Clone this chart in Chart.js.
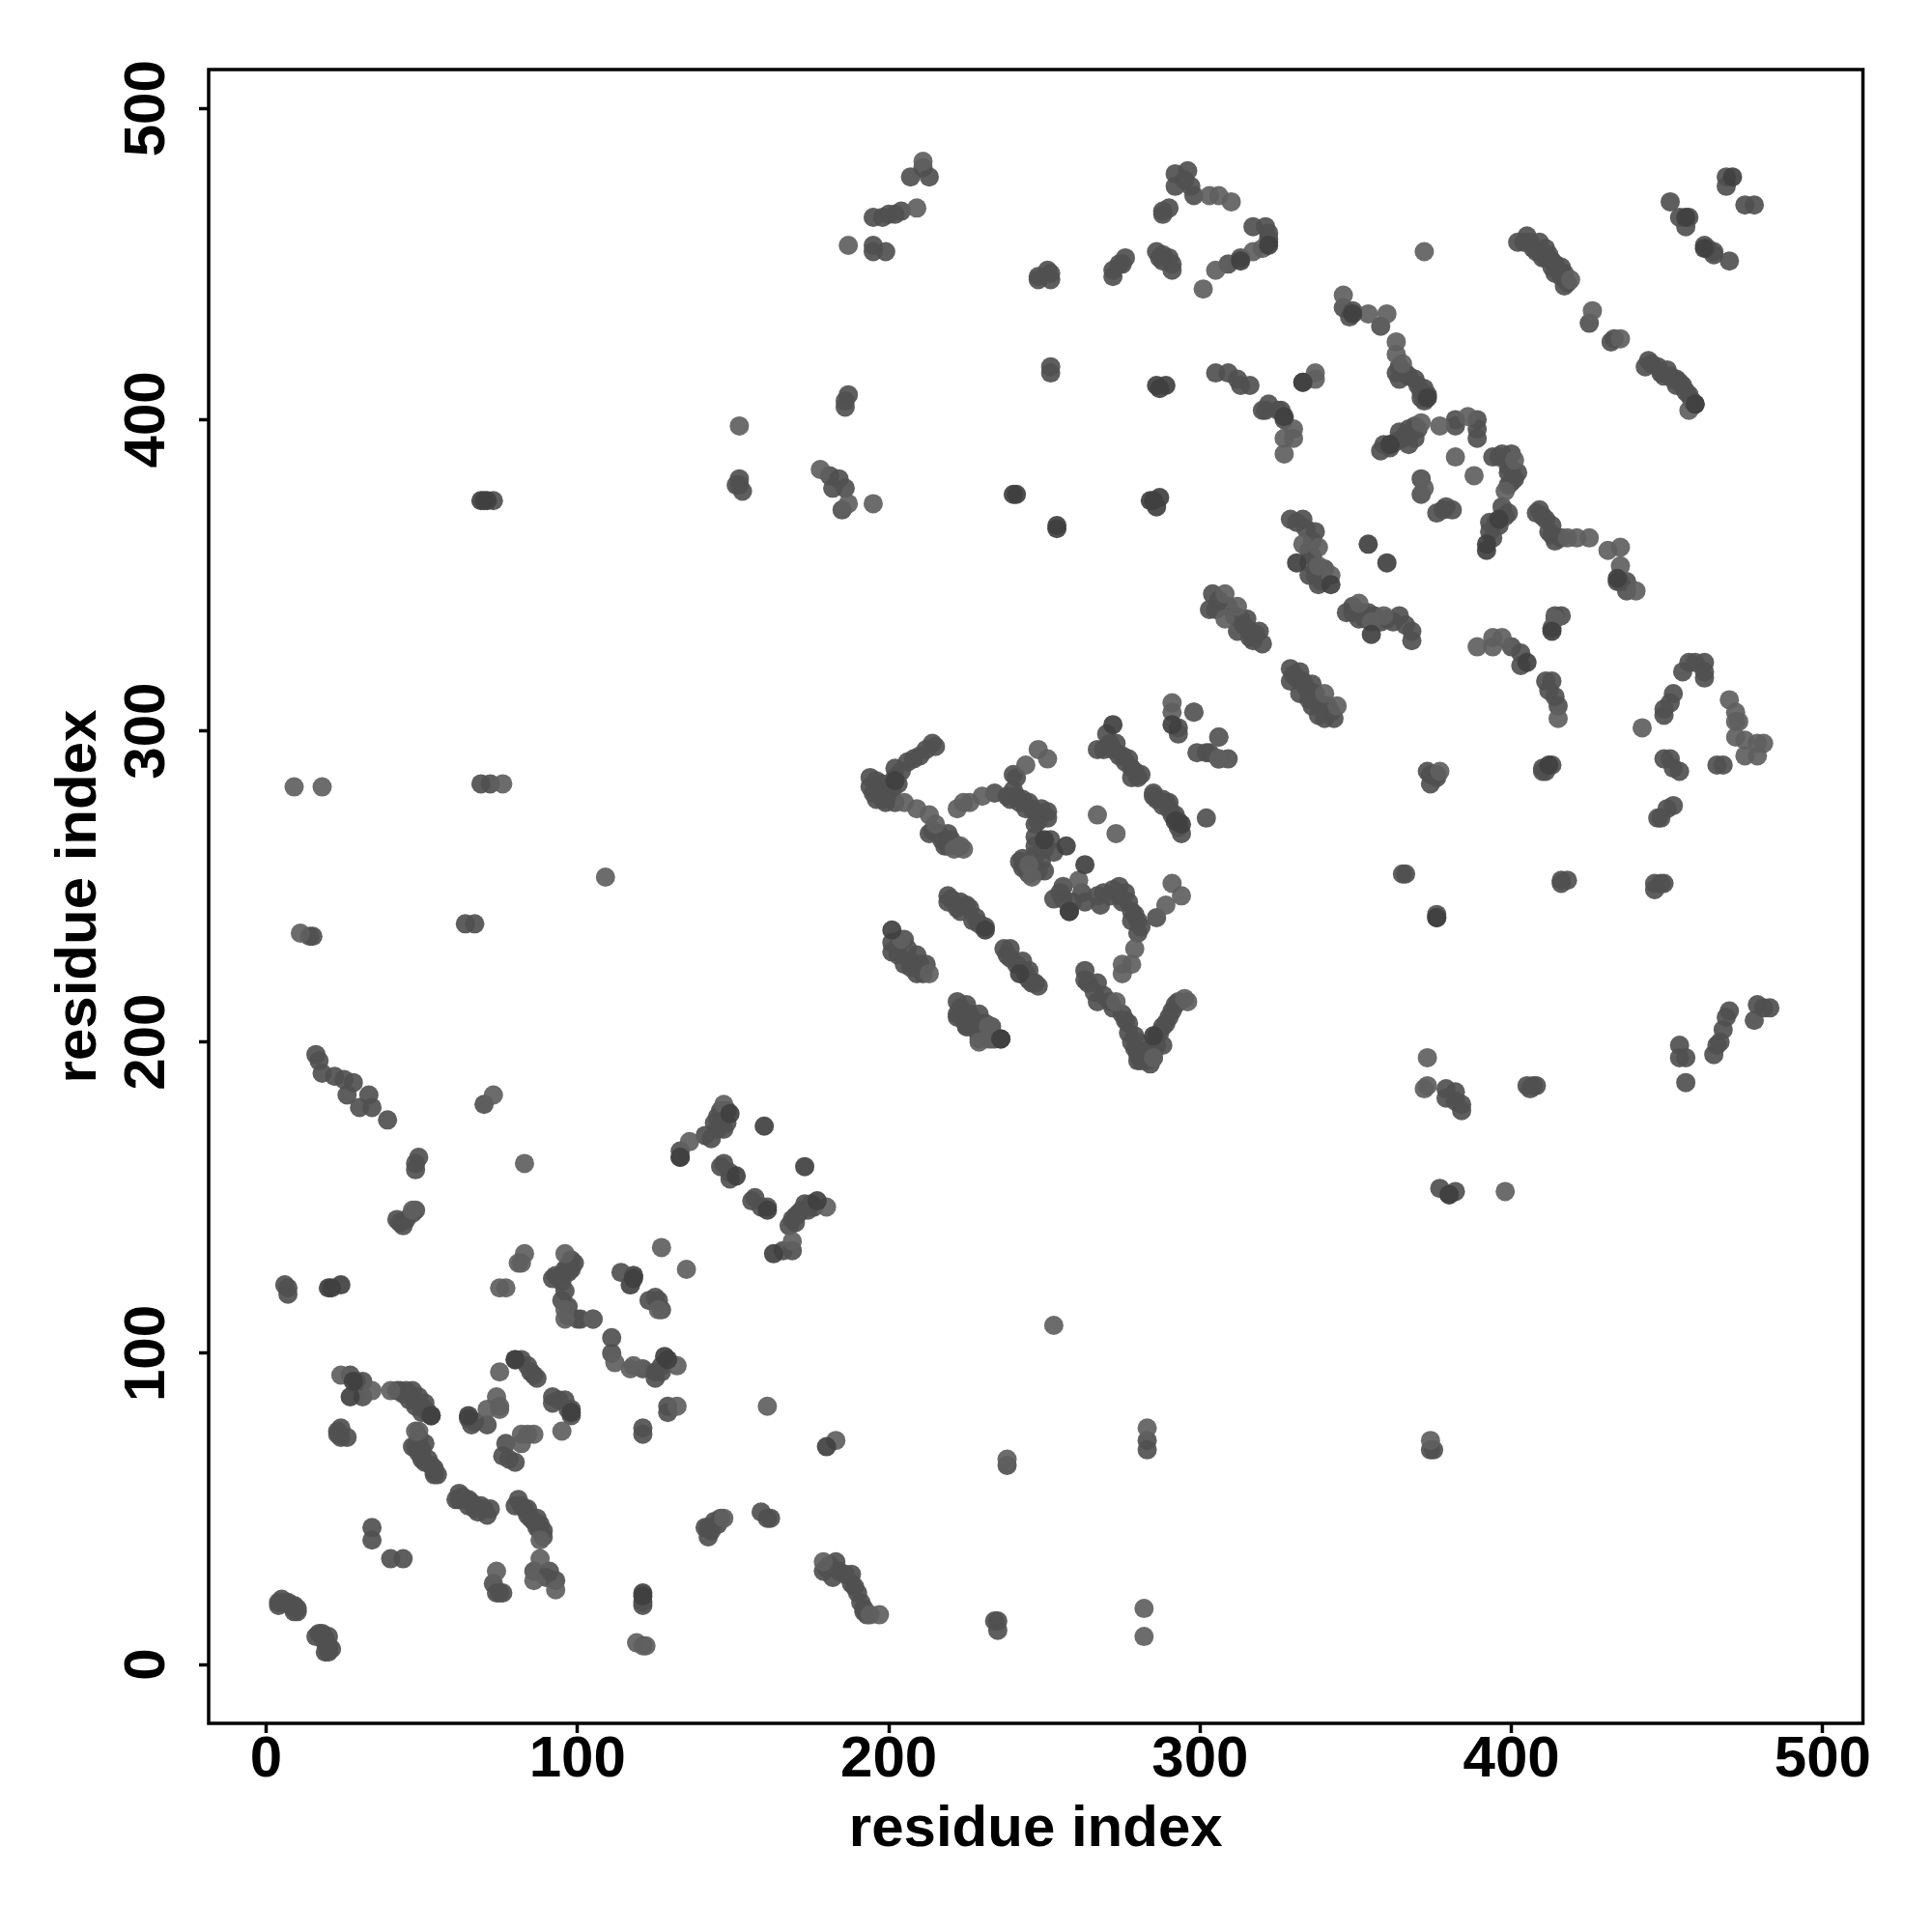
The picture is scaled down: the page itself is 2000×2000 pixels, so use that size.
<!DOCTYPE html>
<html>
<head>
<meta charset="utf-8">
<title>residue contacts</title>
<script src="https://cdn.jsdelivr.net/npm/chart.js@4"></script>
<style>
  html, body { margin: 0; padding: 0; background: #fff; }
  canvas { display: block; }
</style>
</head>
<body>
<canvas id="contacts" width="2000" height="2000"></canvas>
<script>
const tickValues = [0, 100, 200, 300, 400, 500];
const axisLabel = 'residue index';

// [residue i, residue j], grouped by how dark the dot is
const midPoints = [
  [4,20],[4,19],[5,21],[6,20],[7,20],[8,19],[9,19],[9,18],[9,17],[10,18],[10,17],
  [16,9],[17,10],[18,10],[18,9],[19,8],[20,9],[19,7],[20,6],[20,5],[20,4],[19,4],[21,5],
  [34,44],[34,40],[40,34],[44,34],
  [23,75],[23,74],[24,76],[24,73],[26,73],
  [27,93],[29,91],[31,91],[31,86],[42,88],[43,88],[45,88],[46,87],[47,86],[48,85],[49,84],[50,83],[51,82],[52,81],[53,80],
  [44,87],[46,85],[48,83],[50,81],[47,88],[49,86],[51,84],
  [48,70],[49,71],[51,71],[49,68],[51,65],[53,64],[54,62],[54,61],[55,61],[49,73],[50,69],[52,66],[54,63],[47,70],[50,66],
  [62,55],[61,53],[65,53],[65,51],[67,50],[70,50],[71,48],[62,53],[63,54],[66,52],[68,49],[69,51],[72,50],
  [81,53],[80,51],[83,50],[84,48],[86,46],[88,45],[89,43],[82,51],[84,50],[85,47],[87,47],[87,44],[88,43],[89,41],
  [86,30],[91,30],[90,28],[93,27],
  [73,26],[74,23],[76,23],[75,23],
  [80,98],[82,98],[84,96],[85,94],[86,93],[87,92],
  [65,79],[66,77],[67,78],[71,77],
  [77,71],[76,67],[78,66],[80,65],
  [92,86],[94,85],[96,85],[98,82],[98,80],[92,84],[97,82],
  [100,111],[105,111],[111,105],[111,100],[121,76],[121,74],[121,20],[121,19],
  [222,208],[225,205],[229,206],[233,205],
  [145,176],[148,174],[145,172],[147,172],[143,169],[141,170],[133,165],[133,163],[146,178],[148,178],[147,176],[144,174],[146,174],
  [147,161],[146,160],[149,158],[149,156],
  [157,150],[156,149],[159,147],[161,147],
  [173,148],[176,147],[171,145],[169,143],[170,142],[166,133],[169,133],[172,146],[174,146],[168,141],[170,144],[175,148],
  [118,125],[117,122],[123,117],[125,118],
  [121,95],[125,92],[125,94],[127,96],[127,94],[129,83],[129,81],
  [146,47],[144,46],[142,44],[141,44],[142,41],[143,43],[145,45],
  [179,30],[184,30],[183,33],[188,29],[188,26],[190,23],[191,20],[192,18],[192,17],[180,31],[181,32],[182,28],[186,29],[189,25],[193,16],
  [235,14],[235,11],[234,14],[159,49],[162,47],[161,47],
  [283,72],[283,69],[238,64],[374,69],[375,69],
  [6,122],[7,119],[7,121],[92,124],[95,125],[96,127],[99,129],[98,130],[95,117],[97,115],[97,112],[101,111],[93,125],[97,128],[97,126],[95,123],[96,120],[98,127],
  [114,126],[118,125],[117,122],[126,117],[127,114],
  [48,161],[49,163],[48,159],
  [43,142],[45,143],[47,145],[48,146],[42,143],[44,141],
  [70,180],[16,196],[17,194],[18,190],[22,189],[25,188],[28,187],[26,183],[30,179],[33,183],[34,179],[39,175],
  [14,234],[15,234],[64,238],[67,238],[69,283],[72,283],[70,374],[73,374],
  [152,381],[152,379],[151,379],[153,377],
  [181,382],[184,381],[182,378],[186,378],[185,371],
  [186,406],[187,408],[186,404],
  [198,465],[200,466],[204,467],[202,466],[195,465],[195,456],[195,454],[199,454],
  [207,478],[211,481],[213,478],
  [248,446],[251,448],[252,447],[248,445],[252,445],[252,417],[252,415],
  [272,446],[272,448],[276,452],[274,450],[275,450],
  [286,454],[288,453],[290,452],[291,450],[291,448],[288,451],[287,452],
  [288,467],[290,468],[288,466],
  [292,479],[296,480],[292,475],[295,477],[297,475],[298,472],
  [309,450],[313,452],[322,460],[317,462],[321,462],[322,457],[322,458],
  [346,436],[349,435],[348,433],[358,430],[363,415],[364,413],[369,413],[370,411],[373,408],[372,406],[371,409],[364,417],[366,415],[367,414],[371,407],[372,410],
  [305,415],[309,415],[312,413],[316,411],[313,411],[333,412],
  [322,405],[325,403],[320,403],[321,403],[326,403],[327,400],
  [359,392],[358,390],[361,392],[361,391],[365,394],[367,397],[369,398],[366,395],[367,392],[363,393],[364,396],[368,396],[370,397],[369,394],
  [382,400],[382,398],[389,400],[389,397],[389,394],
  [371,381],[371,376],[378,371],[376,370],[381,371],[379,372],
  [394,388],[397,389],[400,389],[399,383],[401,381],[396,388],[399,385],[400,384],[402,383],[400,380],[399,379],
  [399,370],[398,369],[395,367],[393,367],[396,366],[397,372],[394,362],[393,364],
  [408,370],[410,369],[413,366],[414,361],[409,371],[411,368],[412,364],[416,362],[413,363],
  [435,348],[437,348],[437,345],[434,348],
  [329,368],[333,368],[337,364],[335,354],[335,350],[338,347],[331,367],[334,365],[336,361],[335,358],[336,356],[337,350],[340,352],[339,348],
  [347,338],[351,336],[354,338],[360,336],[364,337],[368,332],[368,329],[349,340],[349,338],[352,338],[353,336],[356,337],[358,335],[362,335],[366,334],
  [304,344],[305,339],[315,336],[312,332],[316,332],[319,332],[317,329],[320,328],[303,339],[306,342],[309,340],[311,337],[313,336],[314,334],[316,330],[318,331],
  [329,320],[332,319],[329,316],[336,315],[332,312],[336,308],[340,304],[330,318],[331,317],[333,316],[334,314],[337,312],[338,309],[341,308],[342,306],[343,304],[338,305],[335,310],
  [303,293],[306,291],[309,291],
  [400,327],[403,325],[403,321],[411,316],[413,316],[412,313],[414,311],[415,308],
  [410,288],[373,287],
  [402,457],[405,459],[406,457],[409,457],[411,455],[410,452],[413,451],[416,449],[413,449],[417,447],[417,443],[415,448],[411,452],[404,457],[407,455],[408,454],[412,453],[414,450],[414,447],[416,446],[418,444],
  [425,431],[432,425],[433,426],
  [444,419],[443,417],[447,417],[450,416],[448,415],[452,413],[453,411],[455,411],[457,408],[459,405],[445,418],[449,414],[451,414],[453,413],[454,412],[456,409],[458,406],
  [451,470],[454,465],[457,465],[456,462],[462,456],[463,455],[465,454],[465,453],
  [469,478],[469,475],[475,469],[478,469],[470,451],
  [214,296],[210,292],[206,290],[202,288],[194,285],[194,282],[195,280],[198,278],[202,277],[199,281],[201,281],[202,285],
  [196,284],[197,281],[196,278],[198,283],[200,279],[199,277],[203,283],[204,287],[208,291],[212,294],[215,295],
  [213,267],[219,267],[216,267],[218,263],[214,268],[217,265],[219,263],[220,265],[222,263],
  [240,286],[241,285],[234,280],[238,279],[239,278],[242,277],[245,277],[247,274],[251,274],[251,272],[248,271],[240,281],[241,279],[243,278],[244,275],[246,275],[248,273],[249,275],
  [247,266],[253,261],[247,263],[250,255],[242,258],[244,256],[246,256],[243,259],[247,260],[249,258],[243,256],[245,254],[248,255],[250,262],[252,265],[247,270],
  [267,294],[270,299],[272,294],[274,292],[278,288],[280,285],[278,285],[269,294],[271,296],[273,296],[275,292],[276,290],[279,287],[281,286],[277,291],
  [285,280],[285,279],[289,277],[290,275],[292,273],[294,267],[302,272],[286,278],[288,278],[288,276],[291,273],[293,271],[293,269],[290,277],
  [293,301],[293,299],[299,293],[302,293],
  [256,250],[253,246],[258,242],[263,245],[267,247],[271,247],[274,250],[272,249],[277,245],[278,242],[280,239],[278,239],[280,235],[286,240],
  [256,246],[255,248],[259,245],[262,248],[268,244],[269,248],[274,247],[275,245],[276,248],[279,241],[281,237],
  [263,223],[263,220],[267,219],[267,213],[269,215],[275,209],[277,206],[279,202],[279,198],[281,194],[283,194],[285,195],[288,199],[286,202],[289,206],[291,210],[280,200],[282,197],[284,198],[287,203],
  [264,219],[266,216],[271,213],[272,211],[276,207],[277,203],[278,200],[280,196],[282,195],[285,197],[286,199],[288,205],[290,208],[292,212],[293,213],[284,193],[280,194],
  [219,247],[219,245],[223,245],[226,243],[223,242],[227,239],[231,237],[220,246],[222,243],[225,244],[228,240],[229,238],
  [237,230],[239,230],[239,227],[243,226],[245,223],[247,219],[246,219],[238,228],[241,225],[244,222],[245,220],[248,218],
  [201,232],[201,229],[205,233],[209,228],[205,225],[212,225],[209,222],[203,231],[203,228],[206,230],[207,226],[210,225],[211,222],[207,224],
  [222,213],[225,212],[222,209],[229,209],[225,205],[229,201],[223,211],[226,209],[224,207],[227,207],[228,204],[231,203],[231,206],[234,201],
  [374,286],[376,285],[374,283],[376,286],[366,254],[365,254],[376,240],[376,241],
  [379,185],[382,184],[379,182],[382,181],[384,178],[384,180],
  [377,153],[380,151],[382,152],[405,186],[407,186],[408,186],[406,185],
  [411,287],[413,289],[410,287],[416,252],[418,252],[416,251],
  [414,337],[413,333],[416,337],
  [449,305],[449,307],[451,309],[452,312],[455,319],[457,322],[459,322],[462,322],[462,319],[462,317],
  [449,291],[451,291],[452,288],[454,287],[447,272],[448,272],[450,275],[452,276],
  [446,251],[448,251],[446,249],[449,251],[454,199],[454,195],[456,195],[456,187],
  [465,196],[466,199],[467,200],[468,204],[469,208],[470,210],
  [479,212],[481,211],[483,211],[478,207],[466,289],[468,289]
];

const lightPoints = [
  [24,93],[34,88],[40,88],[49,75],[48,75],[88,40],[88,34],[86,27],[93,24],[74,30],
  [75,94],[74,86],[75,83],[75,82],[71,82],[82,74],[84,74],[86,74],[82,71],[95,75],
  [112,97],[117,95],[119,7],[121,6],[122,6],[96,114],[96,111],
  [147,180],[136,168],[180,147],[169,136],[127,134],[135,127],[126,114],
  [118,96],[132,96],[132,83],[161,83],[183,72],[253,109],[232,201],[229,200],
  [147,47],[179,33],[194,16],[197,16],[283,76],[282,18],[282,9],[238,66],[374,72],
  [96,132],[75,121],[77,121],[82,129],[83,132],[81,129],[105,111],
  [83,161],[47,146],[73,183],[9,282],[18,282],[76,283],[109,253],[11,235],
  [152,398],[178,384],[187,373],[195,373],[187,456],[209,468],[211,483],
  [303,472],[306,472],[310,470],[305,448],[301,442],[317,454],[320,455],[372,454],
  [346,440],[354,434],[360,434],[363,425],[363,421],[365,418],
  [337,415],[337,413],[327,394],[330,397],[330,394],[327,389],
  [371,399],[377,398],[386,401],[382,388],[388,382],[372,378],[401,387],[398,377],
  [418,362],[421,362],[425,362],[431,358],[435,359],[435,353],[440,345],
  [333,360],[338,359],[338,353],[342,350],[351,341],[355,335],[359,337],
  [308,344],[312,340],[308,336],[344,308],[340,312],[298,306],[306,298],
  [389,327],[394,330],[397,330],[394,327],[414,336],[415,304],[377,287],[442,301],
  [419,445],[426,435],[435,426],[457,403],[473,303],
  [221,262],[224,262],[222,275],[226,277],[224,277],[230,279],[248,294],[251,291],[244,289],
  [205,277],[209,275],[213,273],[215,270],[223,263],
  [246,253],[245,257],[267,273],[273,267],[291,309],[291,306],[298,306],[306,298],[306,291],
  [261,252],[285,195],[289,244],[291,251],[294,247],[279,230],[278,225],[275,225],[275,222],
  [273,213],[295,214],[296,213],[204,233],[213,222],[232,205],[233,201],
  [373,195],[372,185],[373,186],[398,152],[470,310],[472,306],[472,303],[472,298],[475,297],[479,296],[481,296],[475,292],[479,292]
];

const darkPoints = [
  [28,91],[27,86],[65,80],[118,124],[53,80],[80,98],[98,81],[121,23],[121,22],
  [149,177],[160,173],[173,160],[177,149],[163,132],[133,163],[129,98],[128,99],[180,70],[236,201],
  [24,122],[21,121],[20,121],[71,374],[69,374],[161,146],[151,157],
  [241,376],[240,376],[254,365],[254,366],[286,411],[289,411],[287,410],[285,374],[287,375],[286,372],[284,374],
  [322,456],[313,451],[349,434],[373,407],[333,412],[327,401],
  [361,392],[354,360],[360,354],[331,354],[342,347],[355,331],[392,360],[392,358],[396,368],[434,349],
  [405,322],[413,332],[412,289],[202,284],[257,263],[263,257],[250,265],[258,242],
  [294,270],[272,302],[291,302],[292,271],
  [231,236],[242,222],[201,236],[236,201],[285,202],
  [376,240],[380,151],[471,478],[456,465],[459,405],[462,455]
];

const toXY = pts => pts.map(([x, y]) => ({ x, y }));

// box round the plot, the axis options only give the left and bottom side
const frame = {
  id: 'frame',
  afterDatasetsDraw(chart) {
    const { ctx, chartArea: a } = chart;
    ctx.save();
    ctx.strokeStyle = '#000';
    ctx.lineWidth = 3.5;
    ctx.strokeRect(a.left, a.top, a.right - a.left, a.bottom - a.top);
    ctx.restore();
  },
};

const font = { family: '"Liberation Sans"', size: 60, weight: 'bold' };

const grid = {
  drawOnChartArea: false,
  drawTicks: true,
  tickLength: 10,
  tickWidth: 3.5,
  tickColor: '#000',
};

function dots(points, color) {
  return {
    data: toXY(points),
    backgroundColor: color,
    borderWidth: 0,
    pointRadius: 10,
    pointHoverRadius: 10,
  };
}

new Chart(document.getElementById('contacts'), {
  type: 'scatter',
  data: {
    datasets: [
      // chart.js paints the first dataset last
      dots(darkPoints, 'rgba(64,64,64,0.92)'),
      dots(lightPoints, 'rgba(95,95,95,0.92)'),
      dots(midPoints, 'rgba(80,80,80,0.92)'),
    ],
  },
  options: {
    responsive: false,
    animation: false,
    layout: { padding: { top: 72, right: 71.5, bottom: 70, left: 0 } },
    plugins: { legend: { display: false }, tooltip: { enabled: false } },
    scales: {
      x: {
        type: 'linear',
        min: -18.46,
        max: 512.9,
        afterBuildTicks: (s) => { s.ticks = tickValues.map(value => ({ value })); },
        afterFit: (s) => { s.height = 146; },
        border: { display: false },
        grid,
        ticks: { color: '#000', font, padding: -8, maxRotation: 0, autoSkip: false },
        title: { display: true, text: axisLabel, color: '#000', font, padding: { top: 0, bottom: 0 } },
      },
      y: {
        type: 'linear',
        min: -18.9,
        max: 512.5,
        afterBuildTicks: (s) => { s.ticks = tickValues.map(value => ({ value })); },
        afterFit: (s) => { s.width = 216; },
        border: { display: false },
        grid,
        ticks: { color: '#000', font, padding: 2, minRotation: 90, maxRotation: 90, crossAlign: 'center', autoSkip: false },
        title: { display: true, text: axisLabel, color: '#000', font, padding: { top: 46, bottom: 0 } },
      },
    },
  },
  plugins: [frame],
});
</script>
</body>
</html>
